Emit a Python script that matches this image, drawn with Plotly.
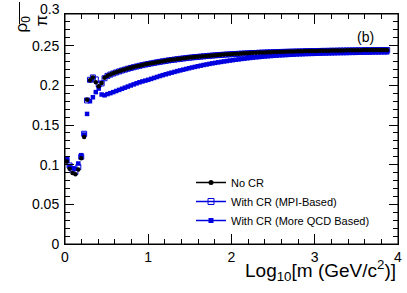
import plotly.graph_objects as go

# log10 of mass (GeV/c^2)
log_m = [0.02, 0.055, 0.09, 0.125, 0.16, 0.195, 0.23, 0.265, 0.30, 0.335,
         0.37, 0.405, 0.44, 0.475, 0.51, 0.545, 0.58, 0.615, 0.65, 0.685,
         0.72, 0.755, 0.79, 0.825, 0.86, 0.895, 0.93, 0.965, 1.00, 1.035,
         1.07, 1.105, 1.14, 1.175, 1.21, 1.245, 1.28, 1.315, 1.35, 1.385,
         1.42, 1.455, 1.49, 1.525, 1.56, 1.595, 1.63, 1.665, 1.70, 1.735,
         1.77, 1.805, 1.84, 1.875, 1.91, 1.945, 1.98, 2.015, 2.05, 2.085,
         2.12, 2.155, 2.19, 2.225, 2.26, 2.295, 2.33, 2.365, 2.40, 2.435,
         2.47, 2.505, 2.54, 2.575, 2.61, 2.645, 2.68, 2.715, 2.75, 2.785,
         2.82, 2.855, 2.89, 2.925, 2.96, 2.995, 3.03, 3.065, 3.10, 3.135,
         3.17, 3.205, 3.24, 3.275, 3.31, 3.345, 3.38, 3.415, 3.45, 3.485,
         3.52, 3.555, 3.59, 3.625, 3.66, 3.695, 3.73, 3.765, 3.80, 3.835,
         3.87]

no_cr = [0.104, 0.095, 0.0895, 0.088, 0.094, 0.108, 0.135, 0.182, 0.2065, 0.2098,
         0.204, 0.1990, 0.2030, 0.2095, 0.2122, 0.2138, 0.2152, 0.2165, 0.2178, 0.2190,
         0.2201, 0.2212, 0.2222, 0.2231, 0.2240, 0.2249, 0.2257, 0.2265, 0.2272, 0.2279,
         0.2286, 0.2293, 0.2299, 0.2305, 0.2311, 0.2317, 0.2322, 0.2327, 0.2332, 0.2337,
         0.2341, 0.2346, 0.2350, 0.2354, 0.2358, 0.2361, 0.2365, 0.2368, 0.2372, 0.2375,
         0.2378, 0.2381, 0.2384, 0.2386, 0.2389, 0.2391, 0.2394, 0.2396, 0.2398, 0.2400,
         0.2402, 0.2404, 0.2406, 0.2408, 0.2410, 0.2411, 0.2413, 0.2415, 0.2416, 0.2418,
         0.2419, 0.2420, 0.2422, 0.2423, 0.2424, 0.2425, 0.2426, 0.2427, 0.2428, 0.2429,
         0.2430, 0.2431, 0.2432, 0.2433, 0.2434, 0.2434, 0.2435, 0.2436, 0.2437, 0.2437,
         0.2438, 0.2439, 0.2439, 0.2440, 0.2441, 0.2441, 0.2442, 0.2442, 0.2443, 0.2443,
         0.2444, 0.2444, 0.2445, 0.2445, 0.2445, 0.2446, 0.2446, 0.2446, 0.2447, 0.2447,
         0.2447]

cr_mpi = [0.106, 0.099, 0.094, 0.091, 0.097, 0.110, 0.139, 0.181, 0.207, 0.2100,
          0.2075, 0.2010, 0.2025, 0.2090, 0.2120, 0.2136, 0.2150, 0.2163, 0.2176, 0.2188,
          0.2199, 0.2210, 0.2220, 0.2229, 0.2238, 0.2247, 0.2255, 0.2263, 0.2270, 0.2277,
          0.2284, 0.2291, 0.2297, 0.2303, 0.2309, 0.2315, 0.2320, 0.2325, 0.2330, 0.2335,
          0.2339, 0.2344, 0.2348, 0.2352, 0.2356, 0.2359, 0.2363, 0.2366, 0.2370, 0.2373,
          0.2376, 0.2379, 0.2382, 0.2384, 0.2387, 0.2389, 0.2392, 0.2394, 0.2396, 0.2398,
          0.2400, 0.2402, 0.2404, 0.2406, 0.2408, 0.2409, 0.2411, 0.2413, 0.2414, 0.2416,
          0.2417, 0.2418, 0.2420, 0.2421, 0.2422, 0.2423, 0.2424, 0.2425, 0.2426, 0.2427,
          0.2428, 0.2429, 0.2430, 0.2431, 0.2432, 0.2432, 0.2433, 0.2434, 0.2435, 0.2435,
          0.2436, 0.2437, 0.2437, 0.2438, 0.2439, 0.2439, 0.2440, 0.2440, 0.2441, 0.2441,
          0.2442, 0.2442, 0.2443, 0.2443, 0.2443, 0.2444, 0.2444, 0.2444, 0.2445, 0.2445,
          0.2445]

cr_qcd = [0.1065, 0.098, 0.0955, 0.095, 0.1015, 0.112, 0.138, 0.164, 0.180, 0.185,
          0.1915, 0.1960, 0.1885, 0.1875, 0.1890, 0.1902, 0.1915, 0.1929, 0.1943, 0.1957,
          0.1971, 0.1985, 0.1999, 0.2013, 0.2026, 0.2039, 0.2050, 0.2060, 0.2070, 0.2082,
          0.2094, 0.2106, 0.2118, 0.2129, 0.2140, 0.2150, 0.2160, 0.2170, 0.2180, 0.2189,
          0.2198, 0.2207, 0.2216, 0.2225, 0.2233, 0.2241, 0.2249, 0.2257, 0.2264, 0.2271,
          0.2278, 0.2284, 0.2290, 0.2296, 0.2302, 0.2307, 0.2313, 0.2318, 0.2323, 0.2328,
          0.2333, 0.2337, 0.2342, 0.2346, 0.2350, 0.2354, 0.2357, 0.2361, 0.2364, 0.2367,
          0.2370, 0.2373, 0.2375, 0.2378, 0.2380, 0.2382, 0.2384, 0.2386, 0.2388, 0.2390,
          0.2392, 0.2393, 0.2395, 0.2396, 0.2397, 0.2398, 0.2399, 0.2400, 0.2401, 0.2402,
          0.2403, 0.2404, 0.2405, 0.2406, 0.2407, 0.2407, 0.2408, 0.2409, 0.2410, 0.2410,
          0.2411, 0.2412, 0.2412, 0.2413, 0.2413, 0.2414, 0.2415, 0.2415, 0.2416, 0.2416,
          0.2417]

legend_names = ["No CR", "With CR (MPI-Based)", "With CR (More QCD Based)"]

BLUE = "rgb(0,0,225)"
FONT = "Liberation Sans, Arial, Helvetica, sans-serif"
X_RANGE = [0, 4]
Y_RANGE = [0, 0.29]

fig = go.Figure()

# data markers
fig.add_trace(go.Scatter(x=log_m, y=cr_qcd, mode="markers", showlegend=False,
                         marker=dict(symbol="square", size=4.5, color=BLUE)))
fig.add_trace(go.Scatter(x=log_m, y=cr_mpi, mode="markers", showlegend=False,
                         marker=dict(symbol="square-open", size=5, color=BLUE,
                                     line=dict(width=1, color=BLUE))))
fig.add_trace(go.Scatter(x=log_m, y=no_cr, mode="markers", showlegend=False,
                         marker=dict(symbol="circle", size=4.5, color="black")))

# legend entries (line + marker, as in the original)
fig.add_trace(go.Scatter(x=[None], y=[None], mode="lines+markers", name=legend_names[0],
                         line=dict(color="black", width=1.5),
                         marker=dict(symbol="circle", size=5, color="black")))
fig.add_trace(go.Scatter(x=[None], y=[None], mode="lines+markers", name=legend_names[1],
                         line=dict(color=BLUE, width=1.5),
                         marker=dict(symbol="square-open", size=6, color=BLUE,
                                     line=dict(width=1, color=BLUE))))
fig.add_trace(go.Scatter(x=[None], y=[None], mode="lines+markers", name=legend_names[2],
                         line=dict(color=BLUE, width=1.5),
                         marker=dict(symbol="square", size=5, color=BLUE)))

L, R, T, B = 65, 9, 14, 49
W, H = 407, 293
PW, PH = W - L - R, H - T - B


def px(xp):
    return (xp - L) / PW


def py(yp):
    return (H - B - yp) / PH


axis_common = dict(showgrid=False, zeroline=False, automargin=False,
                   showline=True, linecolor="black", linewidth=1, mirror="ticks",
                   ticks="inside", tickwidth=1, tickcolor="black",
                   tickfont=dict(size=14), tickmode="linear")

fig.update_layout(
    template="none",
    width=W, height=H,
    margin=dict(l=L, r=R, t=T, b=B, pad=0, autoexpand=False),
    paper_bgcolor="white", plot_bgcolor="white",
    font=dict(family=FONT, size=14, color="black"),
    legend=dict(x=px(191), y=py(168), xanchor="left", yanchor="top",
                bgcolor="rgba(0,0,0,0)", font=dict(size=11), itemwidth=30,
                tracegroupgap=0, borderwidth=0),
    xaxis=dict(range=X_RANGE, tick0=0, dtick=1, ticklen=10,
               minor=dict(tickmode="linear", tick0=0, dtick=0.2, ticks="inside",
                          ticklen=5, tickcolor="black", tickwidth=1,
                          showgrid=False),
               **axis_common),
    yaxis=dict(range=Y_RANGE, tick0=0, dtick=0.05, ticklen=9,
               ticklabelstandoff=2,
               minor=dict(tickmode="linear", tick0=0, dtick=0.01, ticks="inside",
                          ticklen=5, tickcolor="black", tickwidth=1,
                          showgrid=False),
               **axis_common),
)

annotations = [
    dict(text="Log<sub>10</sub>[m (GeV/c<sup>2</sup>)]", x=1, xref="paper",
         xanchor="right", y=py(270), yref="paper", yanchor="middle",
         showarrow=False, font=dict(size=19)),
    dict(text="(b)", x=px(376), y=py(27), xref="paper", yref="paper",
         showarrow=False, font=dict(size=14)),
    dict(text="0.3", x=px(62), xref="paper", xanchor="right", y=py(9),
         yref="paper", yanchor="middle", showarrow=False, font=dict(size=14)),
    dict(text="ρ<sub>0</sub>", textangle=-90, x=px(9), y=py(13), xref="paper",
         yref="paper", showarrow=False, font=dict(size=17)),
    dict(text="π", textangle=-90, x=px(29), y=py(13), xref="paper",
         yref="paper", showarrow=False, font=dict(size=17)),
]
fig.update_layout(annotations=annotations)
fig.add_shape(type="line", xref="paper", yref="paper",
              x0=px(19.5), x1=px(19.5), y0=py(2), y1=py(24),
              line=dict(color="black", width=1))
# frame around the plotting area
fig.add_shape(type="rect", xref="paper", yref="paper", x0=0, x1=1, y0=0, y1=1,
              line=dict(color="black", width=1), layer="above")

fig.write_html("out.html",
               config={"displayModeBar": False},
               post_script="document.body.style.margin='0px';"
                           "document.body.style.padding='0px';")
